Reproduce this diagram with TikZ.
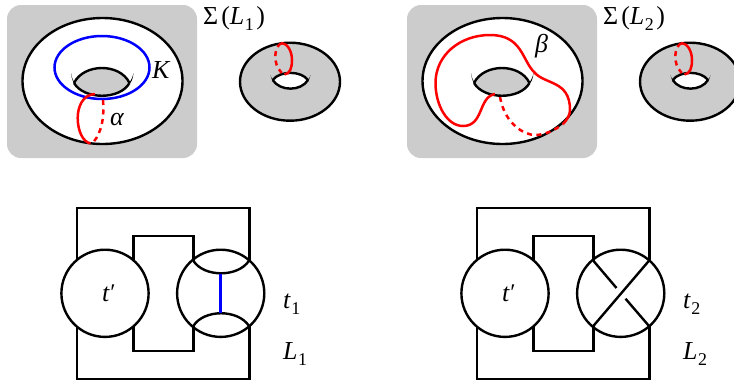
\documentclass[tikz,border=0pt]{standalone}
\usepackage{fontspec}
\setmainfont{Liberation Serif}
\definecolor{panelgray}{gray}{0.8}
\definecolor{kblue}{rgb}{0,0,1}
\newcommand{\lblsub}[2]{\textit{#1}\kern0.5pt\raisebox{-0.24em}{\fontsize{18}{18}\selectfont #2}}
\newcommand{\tprime}{\textit{t}\kern0.5pt\raisebox{0.02em}{\fontsize{24}{24}\selectfont ′}}
\tikzset{
  ink/.style={line width=2.4bp,black},
  redsolid/.style={line width=2.5bp,red},
  reddash/.style={line width=2.5bp,red,dash pattern=on 5bp off 4.5bp},
  bluecurve/.style={line width=2.5bp,kblue},
  lbl/.style={anchor=base west,inner sep=0pt,font=\fontsize{26}{26}\selectfont},
}
\newcommand{\torusbase}{%
  \fill[panelgray,rounded corners=14bp] (7,5) rectangle (197,158);
  \draw[ink,fill=white] (102.5,81) ellipse [x radius=80,y radius=63];
  % large hole
  \fill[panelgray] (74,83) .. controls (84,63) and (120,63) .. (129.5,83) .. controls (120,100) and (84,100) .. (74,83) -- cycle;
  \draw[ink] (74,83) .. controls (84,63) and (120,63) .. (129.5,83);
  \draw[ink] (74,83) .. controls (84,100) and (120,100) .. (129.5,83);
  \fill (71,73) .. controls (71.5,79) and (73,83) .. (77,86) -- (73,80) .. controls (72,78) and (71.5,76) .. (71,73) -- cycle;
  \fill (133.5,73) .. controls (133,79) and (131.5,83) .. (127,86) -- (131,80) .. controls (132,78) and (133,76) .. (133.5,73) -- cycle;
  % small torus
  \draw[ink,fill=panelgray] (290,81.7) ellipse [x radius=50,y radius=39];
  \fill[white] (272.7,80) .. controls (280,70.5) and (301,70.5) .. (308,80) .. controls (301,91.5) and (280,91.5) .. (272.7,80) -- cycle;
  \draw[ink] (272.7,80) .. controls (280,70.5) and (301,70.5) .. (308,80);
  \draw[ink] (272.7,80) .. controls (280,91.5) and (301,91.5) .. (308,80);
  \fill (270.5,75) .. controls (271,78) and (272,81) .. (275,83) -- (272.5,79) .. controls (271.5,78) and (271,77) .. (270.5,75) -- cycle;
  \fill (310.5,75) .. controls (310,78) and (309,81) .. (306,83) -- (308.5,79) .. controls (309.5,78) and (310,77) .. (310.5,75) -- cycle;
  % small torus curve
  \draw[reddash] (281,43.3) .. controls (274.5,47) and (272,63) .. (281.7,73);
  \draw[redsolid] (281,43.3) .. controls (288,43) and (292,52) .. (292,60) .. controls (292,68) and (290,73.5) .. (284.5,74.5);
}
\newcommand{\linkbase}{%
  \draw[ink,line join=miter] (76.7,260.7) -- (76.7,207.7) -- (249.3,207.7) -- (249.3,260.7);
  \draw[ink,line join=miter] (76.7,326) -- (76.7,379) -- (249.3,379) -- (249.3,326);
  \draw[ink,line join=miter] (133.3,260.7) -- (133.3,235.7) -- (193.3,235.7) -- (193.3,260.7);
  \draw[ink,line join=miter] (133.3,326) -- (133.3,351) -- (193.3,351) -- (193.3,326);
  \draw[ink] (105,293.3) circle [radius=43.6];
  \draw[ink] (220.7,293.3) circle [radius=43.6];
}
\begin{document}
\begin{tikzpicture}[x=1bp,y=-1bp]
\useasboundingbox (0,0) rectangle (734,382);
\clip (0,0) rectangle (734,382);
% left column
\torusbase
\draw[bluecurve] (102,67.5) ellipse [x radius=47.5,y radius=31.5];
\draw[reddash] (103,100) .. controls (104.5,115) and (102,133) .. (93,142.5);
\draw[redsolid] (95,94) .. controls (82,94.5) and (77.7,108) .. (77.7,118) .. controls (77.7,131) and (83,142) .. (90.5,143.5);
\linkbase
\draw[ink] (193.3,260.7) .. controls (204,277.5) and (238,277.5) .. (249,260.7);
\draw[ink] (193.3,326) .. controls (204,309) and (238,309) .. (249,326);
\draw[bluecurve] (220.7,274) -- (220.7,313);
\node[lbl] (sigmaA) at (203,24.5) {Σ\kern3pt(\lblsub{L}{1}\kern2.5pt)};
\node[lbl] (kA) at (152,78) {\textit{K}};
\node[lbl] (alphaA) at (110,125) {\textit{α}};
\node[lbl] (tpA) at (102,301.5) {\tprime};
\node[lbl] (tA) at (283,308) {\lblsub{t}{1}};
\node[lbl] (lA) at (283,359) {\lblsub{L}{1}};
% right column
\begin{scope}[xshift=400bp]
\torusbase
\draw[reddash] (100,97) .. controls (105,125) and (125,135) .. (135,135) .. controls (145,135) and (155,130) .. (163,124);
\draw[redsolid] (95,94) .. controls (78,97) and (84,126) .. (63,126) .. controls (47,126) and (35.5,105) .. (35.5,83)
  .. controls (35.5,55) and (60,35) .. (90,35) .. controls (122,35) and (122,60) .. (134,72)
  .. controls (145,85) and (170,80) .. (170,110) .. controls (170,115) and (167,120) .. (163,124);
\linkbase
\draw[ink] (193.3,326) -- (249,260.7);
\draw[ink] (193.3,260.7) -- (216.5,288);
\draw[ink] (225.5,298.7) -- (249,326);
\node[lbl] (sigmaB) at (203,24.5) {Σ\kern3pt(\lblsub{L}{2}\kern2.5pt)};
\node[lbl] (betaB) at (135,52) {\textit{β}};
\node[lbl] (tpB) at (102,301.5) {\tprime};
\node[lbl] (tB) at (283,308) {\lblsub{t}{2}};
\node[lbl] (lB) at (283,359) {\lblsub{L}{2}};
\end{scope}
\end{tikzpicture}
\end{document}
